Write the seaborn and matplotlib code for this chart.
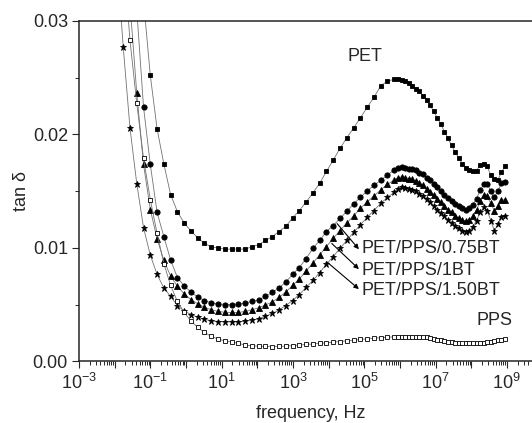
import numpy as np
import matplotlib
matplotlib.use("Agg")
import matplotlib.pyplot as plt
import matplotlib.ticker as mticker
import seaborn as sns

# frequency grid, log10(f / Hz)
log_freq = [-1.95, -1.76, -1.57, -1.38, -1.19, -1.00, -0.81, -0.62, -0.43, -0.24,
            -0.05, 0.14, 0.33, 0.52, 0.71, 0.90, 1.09, 1.28, 1.47, 1.66,
            1.85, 2.04, 2.23, 2.42, 2.61, 2.80, 2.99, 3.18, 3.37, 3.56,
            3.75, 3.94, 4.13, 4.32, 4.51, 4.70, 4.89, 5.08, 5.27, 5.46,
            5.65, 5.84,
            5.95, 6.05, 6.15, 6.25, 6.35, 6.45, 6.55, 6.65, 6.75, 6.85,
            6.95, 7.05, 7.15, 7.25, 7.35, 7.45, 7.55, 7.65, 7.75, 7.85,
            7.95, 8.05, 8.15, 8.25, 8.35, 8.45, 8.55, 8.65, 8.75, 8.85, 8.95]

# tan delta values
tan_pet = [0.10, 0.075, 0.055, 0.041, 0.0318, 0.0252, 0.0205, 0.0174, 0.0147, 0.0132,
           0.0122, 0.0115, 0.0109, 0.0104, 0.0101, 0.0100, 0.0099, 0.0099, 0.0099, 0.0099,
           0.0101, 0.0103, 0.01066, 0.0110, 0.01145, 0.0119, 0.01264, 0.0133, 0.01405, 0.01485,
           0.0157, 0.01674, 0.01775, 0.01877, 0.0197, 0.02057, 0.02145, 0.02238, 0.02326, 0.02427,
           0.02471, 0.02485,
           0.02485, 0.0248, 0.02467, 0.0245, 0.02427, 0.02405, 0.02379, 0.02339, 0.0230, 0.02256,
           0.02203, 0.02145, 0.02088, 0.02026, 0.01965, 0.01903, 0.01846, 0.01793, 0.01744, 0.01709,
           0.01687, 0.0168, 0.0168, 0.01735, 0.0174, 0.0172, 0.0164, 0.0161, 0.0160, 0.0167, 0.0172]

tan_075bt = [0.11, 0.065, 0.045, 0.031, 0.0224, 0.01736, 0.01313, 0.01101, 0.00894, 0.0074,
             0.00665, 0.00612, 0.00568, 0.00537, 0.00517, 0.00508, 0.00502, 0.00502, 0.00505, 0.00515,
             0.00529, 0.00542, 0.00573, 0.00608, 0.00648, 0.0070, 0.00767, 0.00828, 0.00907, 0.00996,
             0.01066, 0.01145, 0.01198, 0.0126, 0.01322, 0.01388, 0.01445, 0.01502, 0.01551, 0.01595,
             0.01643, 0.01687,
             0.01709, 0.01714, 0.01709, 0.0170, 0.01692, 0.01683, 0.01665, 0.01648, 0.01621, 0.01595,
             0.01564, 0.01533, 0.01502, 0.01471, 0.0144, 0.01414, 0.01388, 0.01366, 0.01348, 0.01339,
             0.01348, 0.01383, 0.01436, 0.01507, 0.0156, 0.01568, 0.0150, 0.0145, 0.0150, 0.0157, 0.0158]

tan_1bt = [0.07, 0.045, 0.0315, 0.02364, 0.01736, 0.01339, 0.01081, 0.0089, 0.00752, 0.00663,
           0.00596, 0.00546, 0.00508, 0.00478, 0.00456, 0.00441, 0.00434, 0.00432, 0.00432, 0.00441,
           0.00456, 0.00473, 0.00498, 0.00524, 0.00564, 0.00612, 0.0067, 0.00727, 0.00797, 0.00868,
           0.00938, 0.01013, 0.01084, 0.01154, 0.0122, 0.01282, 0.01348, 0.01405, 0.01458, 0.01511,
           0.0156, 0.01599,
           0.01621, 0.01626, 0.01621, 0.01612, 0.01604, 0.0159, 0.01573, 0.01551, 0.01524, 0.01493,
           0.01463, 0.01432, 0.01401, 0.0137, 0.01339, 0.01313, 0.01286, 0.01264, 0.01247, 0.01238,
           0.01247, 0.01282, 0.01335, 0.0141, 0.01463, 0.01454, 0.01392, 0.0133, 0.01366, 0.01419, 0.01427]

tan_150bt = [0.036, 0.02773, 0.02056, 0.01568, 0.01178, 0.00937, 0.00767, 0.00648, 0.00573, 0.00493,
             0.00445, 0.00414, 0.0039, 0.0037, 0.00361, 0.00352, 0.0035, 0.0035, 0.0035, 0.00355,
             0.00364, 0.00376, 0.00399, 0.00423, 0.00454, 0.00493, 0.00537, 0.0059, 0.00652, 0.00714,
             0.00784, 0.00855, 0.00925, 0.00996, 0.01066, 0.01137, 0.01203, 0.01269, 0.0133, 0.01392,
             0.01445, 0.01489,
             0.01524, 0.01533, 0.01529, 0.0152, 0.01511, 0.01498, 0.0148, 0.01458, 0.01432, 0.01401,
             0.0137, 0.01339, 0.01308, 0.01278, 0.01247, 0.0122, 0.01194, 0.01172, 0.01154, 0.01145,
             0.01154, 0.01189, 0.01242, 0.01313, 0.01357, 0.0133, 0.01242, 0.01154, 0.01207, 0.01269, 0.01286]

tan_pps = [0.05, 0.036, 0.0283, 0.02273, 0.01789, 0.01427, 0.01128, 0.00863, 0.0067, 0.00529,
           0.00432, 0.00357, 0.0030, 0.00256, 0.00222, 0.00198, 0.00182, 0.00172, 0.0016, 0.00145,
           0.00138, 0.00135, 0.00133, 0.00132, 0.00134, 0.00135, 0.0014, 0.00145, 0.0015, 0.00155,
           0.0016, 0.00165, 0.0017, 0.00176, 0.00182, 0.00188, 0.00194, 0.002, 0.00205, 0.0021,
           0.00214, 0.00217,
           0.0022, 0.0022, 0.0022, 0.0022, 0.0022, 0.00219, 0.00218, 0.00216, 0.00212, 0.00206,
           0.002, 0.00193, 0.00186, 0.0018, 0.00175, 0.0017, 0.00165, 0.00162, 0.0016, 0.00159,
           0.00159, 0.0016, 0.00161, 0.00163, 0.00166, 0.00171, 0.00176, 0.00182, 0.00188, 0.00193, 0.00198]

x_tick_exps = [-3, -1, 1, 3, 5, 7, 9]
y_ticks = [0.00, 0.01, 0.02, 0.03]

sns.set_style("ticks")
plt.rcParams["font.family"] = ["Liberation Sans", "DejaVu Sans"]
plt.rcParams["mathtext.fontset"] = "custom"
plt.rcParams["mathtext.rm"] = "Liberation Sans"
plt.rcParams["mathtext.default"] = "regular"

freq = 10.0 ** np.array(log_freq)

fig = plt.figure(figsize=(5.32, 4.23), dpi=100)
ax = fig.add_axes([0.1485, 0.1454, 0.8712, 0.805])
ax.set_xscale("log")

# (values, marker, face colour, marker size)
series = [
    (tan_pet, "s", "k", 3.3),
    (tan_075bt, "o", "k", 3.8),
    (tan_1bt, "^", "k", 4.2),
    (tan_150bt, "*", "k", 5.0),
    (tan_pps, "s", "w", 3.4),
]
for vals, mk, fc, ms in series:
    sns.lineplot(x=freq, y=vals, ax=ax, estimator=None, sort=False,
                 color="0.45", lw=0.6, marker=mk, markersize=ms,
                 markerfacecolor=fc, markeredgecolor="k", markeredgewidth=0.6)

ax.set_xlim(1e-3, 1e10)
ax.set_ylim(0, 0.03)

ax.xaxis.set_major_locator(mticker.LogLocator(base=10, numticks=30))
ax.xaxis.set_minor_locator(mticker.LogLocator(base=10, subs=np.arange(2, 10), numticks=30))
ax.xaxis.set_major_formatter(mticker.FuncFormatter(
    lambda v, p: r"$10^{%d}$" % round(np.log10(v)) if round(np.log10(v)) in x_tick_exps else ""))
ax.set_yticks(y_ticks)
ax.set_yticklabels(["%.2f" % t for t in y_ticks])
ax.yaxis.set_minor_locator(mticker.MultipleLocator(0.005))

ax.tick_params(which="major", direction="out", length=5, width=0.8, labelsize=13, pad=3)
ax.tick_params(which="minor", direction="out", length=3, width=0.7)
ax.tick_params(top=False, right=False, which="both")
for s in ax.spines.values():
    s.set_linewidth(1.1)

ax.set_xlabel("frequency, Hz", fontsize=13, labelpad=9)
ax.set_ylabel("tan δ", fontsize=13, labelpad=2)

ax.text(10 ** 4.53, 0.0269, "PET", fontsize=13, va="center", ha="left")
ax.text(10 ** 8.16, 0.00365, "PPS", fontsize=13, va="center", ha="left")
labels = ["PET/PPS/0.75BT", "PET/PPS/1BT", "PET/PPS/1.50BT"]
tails = [(10 ** 4.24, 0.01215), (10 ** 4.09, 0.0104), (10 ** 3.95, 0.00878)]
heads = [(10 ** 4.85, 0.00989), (10 ** 4.85, 0.00814), (10 ** 4.85, 0.00638)]
text_y = [0.00998, 0.00805, 0.00629]
for lab, t, h, ty in zip(labels, tails, heads, text_y):
    ax.annotate("", xy=h, xytext=t,
                arrowprops=dict(arrowstyle="-|>", color="k", lw=0.8,
                                mutation_scale=7, shrinkA=0, shrinkB=0))
    ax.text(10 ** 4.91, ty, lab, fontsize=13, va="center", ha="left")

fig.savefig("out.png", dpi=100)
